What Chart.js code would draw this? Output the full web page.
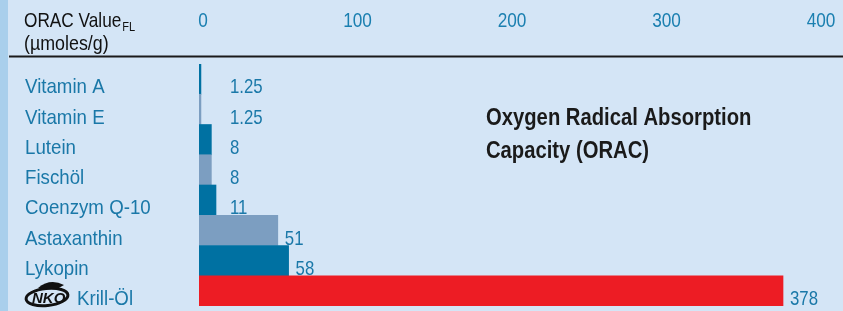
<!DOCTYPE html>
<html>
<head>
<meta charset="utf-8">
<script src="https://cdn.jsdelivr.net/npm/chart.js@4"></script>
<style>
  html, body { margin: 0; padding: 0; background: #d4e5f6; }
  #wrap { width: 843px; height: 311px; position: relative; }
</style>
</head>
<body>
<div id="wrap"><canvas id="oracChart" width="843" height="311"></canvas></div>
<script>
// ORAC chart data
const categories = ['Vitamin A', 'Vitamin E', 'Lutein', 'Fischöl', 'Coenzym Q-10', 'Astaxanthin', 'Lykopin', 'Krill-Öl'];
const oracValues = [1.25, 1.25, 8, 8, 11, 51, 58, 378];
const valueLabels = ['1.25', '1.25', '8', '8', '11', '51', '58', '378'];
const axisTicks = [0, 100, 200, 300, 400];

const FONT = '"Liberation Sans Narrow", "Arial Narrow", "Liberation Sans", sans-serif';
const LABEL_BLUE = '#1a78a8';
const DARK = '#0071a2';
const LIGHT = '#7c9ec1';
const RED = '#ed1c24';

const barColors = oracValues.map((v, i) => i === categories.length - 1 ? RED : (i % 2 === 0 ? DARK : LIGHT));

// no narrow font installed, so squeeze the text horizontally
function narrowText(ctx, text, x, y, sx, align) {
  ctx.save();
  ctx.translate(x, y);
  ctx.scale(sx, 1);
  ctx.textAlign = align || 'left';
  ctx.fillText(text, 0, 0);
  ctx.restore();
  return ctx.measureText(text).width * sx;
}

const decorPlugin = {
  id: 'decor',
  beforeDraw(chart) {
    const ctx = chart.ctx;
    ctx.save();
    ctx.fillStyle = '#d4e5f6';
    ctx.fillRect(0, 0, chart.width, chart.height);
    ctx.fillStyle = '#a9cfec';
    ctx.fillRect(0, 0, 8, chart.height);
    // header rule
    ctx.strokeStyle = '#1a1a1a';
    ctx.lineWidth = 2;
    ctx.beginPath();
    ctx.moveTo(9, 56.5);
    ctx.lineTo(chart.width, 56.5);
    ctx.stroke();
    // header text
    ctx.fillStyle = '#111';
    ctx.textBaseline = 'alphabetic';
    ctx.font = '21px ' + FONT;
    const w = narrowText(ctx, 'ORAC Value', 24, 27, 0.82);
    ctx.font = '13px ' + FONT;
    narrowText(ctx, 'FL', 24 + w + 1, 31, 0.85);
    ctx.font = '21px ' + FONT;
    narrowText(ctx, '(µmoles/g)', 24, 50, 0.85);
    // tick labels from x scale
    const xs = chart.scales.x;
    ctx.fillStyle = '#1a7fb0';
    ctx.font = '21px ' + FONT;
    axisTicks.forEach(t => {
      narrowText(ctx, String(t), xs.getPixelForValue(t) + 4, 27, 0.82, 'center');
    });
    // title
    ctx.fillStyle = '#1a1a1a';
    ctx.font = 'bold 23px ' + FONT;
    narrowText(ctx, 'Oxygen Radical Absorption', 486, 125, 0.88);
    narrowText(ctx, 'Capacity (ORAC)', 486, 158, 0.88);
    ctx.restore();
  },
  afterDatasetsDraw(chart) {
    const ctx = chart.ctx;
    const ys = chart.scales.y;
    const meta = chart.getDatasetMeta(0);
    const band = (chart.chartArea.bottom - chart.chartArea.top) / categories.length;
    ctx.save();
    ctx.textBaseline = 'alphabetic';
    categories.forEach((c, i) => {
      const base = ys.getPixelForValue(i) + band / 2 - 1;
      ctx.fillStyle = LABEL_BLUE;
      ctx.font = '21px ' + FONT;
      let lx = 25;
      if (i === categories.length - 1) {
        drawLogo(ctx, 24, base);
        lx = 77;
      }
      narrowText(ctx, c, lx, base, 0.89);
      const bar = meta.data[i];
      const vx = Math.max(bar.x + 7, 230);
      narrowText(ctx, valueLabels[i], vx, base, 0.8);
    });
    ctx.restore();
  }
};

function drawLogo(ctx, x, base) {
  ctx.save();
  ctx.strokeStyle = '#111';
  ctx.fillStyle = '#111';
  ctx.lineWidth = 3;
  ctx.beginPath();
  ctx.ellipse(x + 23, base - 8, 21, 8.5, -0.1, 0, Math.PI * 2);
  ctx.stroke();
  ctx.beginPath();
  ctx.moveTo(x + 14, base - 17);
  ctx.quadraticCurveTo(x + 26, base - 27, x + 40, base - 20);
  ctx.lineTo(x + 33, base - 16);
  ctx.closePath();
  ctx.fill();
  ctx.font = 'italic bold 15px "Liberation Sans", sans-serif';
  ctx.fillText('NKO', x + 8, base - 2);
  ctx.restore();
}

new Chart(document.getElementById('oracChart').getContext('2d'), {
  type: 'bar',
  data: {
    labels: categories,
    datasets: [{
      data: oracValues,
      backgroundColor: barColors,
      borderWidth: 0,
      categoryPercentage: 1,
      barPercentage: 1
    }]
  },
  options: {
    indexAxis: 'y',
    responsive: false,
    animation: false,
    layout: { padding: { left: 199, right: 26, top: 64, bottom: 5 } },
    scales: {
      x: { display: false, min: 0, max: 400 },
      y: { display: false }
    },
    plugins: {
      legend: { display: false },
      tooltip: { enabled: false }
    }
  },
  plugins: [decorPlugin]
});
</script>
</body>
</html>
